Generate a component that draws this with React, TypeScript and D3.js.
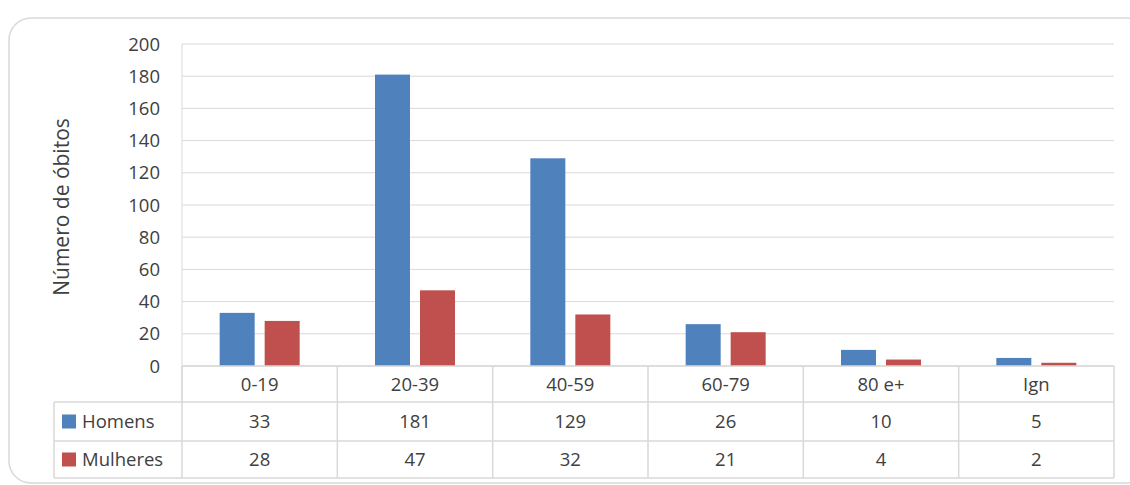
import React from "react";
import * as d3 from "d3";

const categories = ["0-19", "20-39", "40-59", "60-79", "80 e+", "Ign"];
const homens = [33, 181, 129, 26, 10, 5];
const mulheres = [28, 47, 32, 21, 4, 2];
const yTicks = [0, 20, 40, 60, 80, 100, 120, 140, 160, 180, 200];
const series = [
  { name: "Homens", values: homens, color: "#4F81BD" },
  { name: "Mulheres", values: mulheres, color: "#C0504D" },
];

export default function App() {
  const W = 1130, H = 485;
  const left = 182, right = 1114, top = 44, bottom = 366;
  const x = d3.scaleBand().domain(categories).range([left, right]);
  const y = d3.scaleLinear().domain([0, 200]).range([bottom, top]);
  const bw = 35, gap = 10;
  const rows = [366, 402, 441, 478];
  const legLeft = 54;
  const font = "'Open Sans', 'Liberation Sans', sans-serif";
  const grid = "#D9D9D9";
  const fs = 18.5;
  return (
    <svg width={W} height={H} style={{ position: "absolute", left: 0, top: 0 }} fontFamily={font}>
      <rect x={9} y={18} width={1140} height={465} rx={22} fill="white" stroke={grid} strokeWidth={1.5} />
      {yTicks.map((t) => (
        <g key={t}>
          <line x1={left} x2={right} y1={y(t)} y2={y(t)} stroke={grid} strokeWidth={1} />
          <text x={160} y={y(t) + 6.5} textAnchor="end" fontSize={fs} fill="#404040">{t}</text>
        </g>
      ))}
      <line x1={left} x2={left} y1={top} y2={rows[1]} stroke={grid} />
      {series.map((s, si) =>
        s.values.map((v, i) => {
          const cx = x(categories[i])! + x.bandwidth() / 2;
          const bx = si === 0 ? cx - gap / 2 - bw : cx + gap / 2;
          return <rect key={si + "-" + i} x={bx} y={y(v)} width={bw} height={y(0) - y(v)} fill={s.color} />;
        })
      )}
      {categories.map((c, i) => (
        <g key={c}>
          <line x1={x(c)! + x.bandwidth()} x2={x(c)! + x.bandwidth()} y1={rows[0]} y2={rows[3]} stroke={grid} strokeWidth={1.5} />
          <text x={x(c)! + x.bandwidth() / 2} y={(rows[0] + rows[1]) / 2 + 6.5} textAnchor="middle" fontSize={fs} fill="#404040">{c}</text>
          {series.map((s, si) => (
            <text key={si} x={x(c)! + x.bandwidth() / 2} y={(rows[si + 1] + rows[si + 2]) / 2 + 6.5} textAnchor="middle" fontSize={fs} fill="#404040">{s.values[i]}</text>
          ))}
        </g>
      ))}
      <line x1={left} x2={left} y1={rows[0]} y2={rows[3]} stroke={grid} strokeWidth={1.5} />
      <line x1={legLeft} x2={legLeft} y1={rows[1]} y2={rows[3]} stroke={grid} strokeWidth={1.5} />
      <line x1={left} x2={right} y1={rows[0]} y2={rows[0]} stroke={grid} strokeWidth={1.5} />
      {[rows[1], rows[2], rows[3]].map((r) => (
        <line key={r} x1={legLeft} x2={right} y1={r} y2={r} stroke={grid} strokeWidth={1.5} />
      ))}
      {series.map((s, si) => {
        const cy = (rows[si + 1] + rows[si + 2]) / 2;
        return (
          <g key={s.name}>
            <rect x={62} y={cy - 7} width={14} height={14} fill={s.color} />
            <text x={82} y={cy + 6.5} fontSize={fs} fill="#404040">{s.name}</text>
          </g>
        );
      })}
      <text transform={`translate(69,${(top + bottom) / 2 + 2}) rotate(-90)`} textAnchor="middle" fontSize={21} fill="#404040">Número de óbitos</text>
    </svg>
  );
}
